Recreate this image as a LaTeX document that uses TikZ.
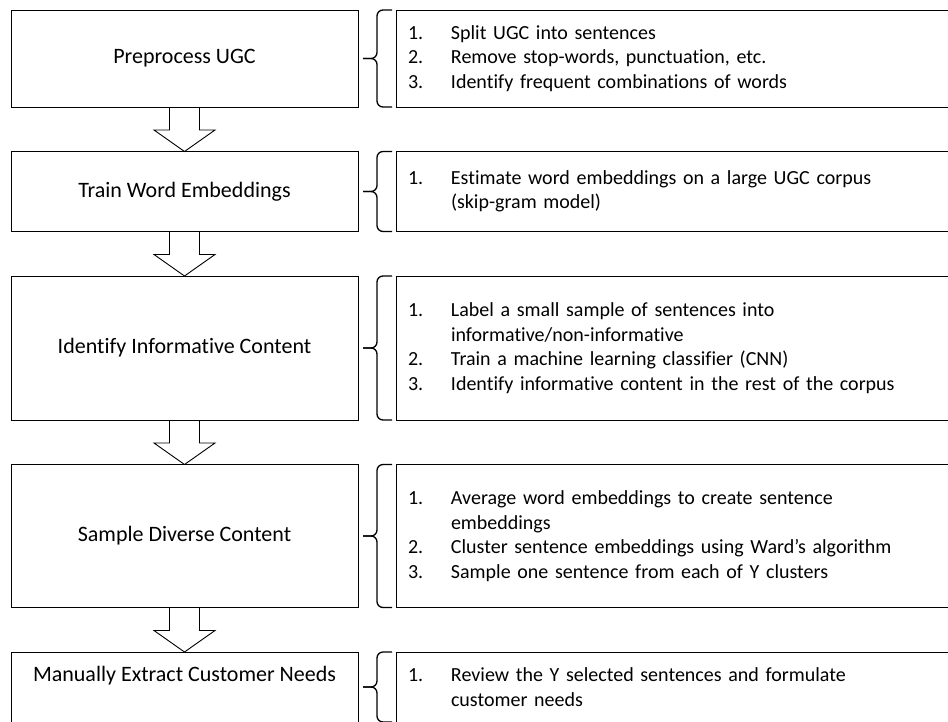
\documentclass[tikz,border=0pt]{standalone}
\usepackage{fontspec}
\setmainfont{Carlito}[Ligatures=CommonOff]
\usetikzlibrary{calc,positioning}
\tikzstyle{stage}=[rectangle,draw=black,line width=1pt,minimum width=347pt,
inner sep=0pt,outer sep=0pt,font=\fontsize{22}{26}\selectfont,align=center]
\tikzstyle{detail}=[rectangle,draw=black,line width=1pt,minimum width=554pt,
text width=530pt,inner xsep=12pt,inner ysep=0pt,outer sep=0pt,
font=\fontsize{20}{24.5}\selectfont,align=left]
\tikzstyle{flow}=[draw=black,line width=0.9pt,line join=miter]
\tikzstyle{bracket}=[draw=black,line width=1.3pt,rounded corners=6pt]

\newcommand{\itemno}[1]{\makebox[43pt][l]{#1}}
\newcommand{\itemcont}{\hspace*{43pt}}
% hollow block arrow from one stage down to the next
\newcommand{\flowarrow}[2]{%
  \draw[flow] ($(#1.south)+(-15,0)$) -- ++(0,-23) -- ++(-15.5,0) -- (#2.north)
    -- ($(#1.south)+(30.5,-23)$) -- ++(-15.5,0) -- ++(0,23);
}
% curly bracket from a stage to its list of steps
\newcommand{\stepbrace}[2]{%
  \draw[bracket] ($(#2.north west)+(-4,0)$) -- ($(#2.north west)+(-19,0)$)
    -- ($(#2.west)+(-19,0)$) -- ($(#1.east)+(5,0)$);
  \draw[bracket] ($(#2.south west)+(-4,0)$) -- ($(#2.south west)+(-19,0)$)
    -- ($(#2.west)+(-19,0)$) -- ($(#1.east)+(5,0)$);
}

\begin{document}
\begin{tikzpicture}[x=1pt,y=1pt]
    \useasboundingbox (0,0) rectangle (948,-721);
    \clip (0,0) rectangle (948,-721);

    \node[stage,minimum height=97pt,anchor=north west] (preprocess) at (11,-10) {Preprocess UGC};
    \node[stage,minimum height=80pt] (train) [below=44.5pt of preprocess] {Train Word Embeddings};
    \node[stage,minimum height=144pt] (identify) [below=44.5pt of train] {Identify Informative Content};
    \node[stage,minimum height=143pt] (sample) [below=44.5pt of identify] {Sample Diverse Content};
    \node[stage,minimum height=70pt,
      label={[font=\fontsize{22}{26}\selectfont,yshift=11pt]center:Manually Extract Customer Needs}]
      (extract) [below=44.5pt of sample] {};

    \node[detail,minimum height=97pt] (preprocess_steps) [right=38pt of preprocess]
      {\itemno{1.}Split UGC into sentences\\
       \itemno{2.}Remove stop-words, punctuation, etc.\\
       \itemno{3.}Identify frequent combinations of words};
    \node[detail,minimum height=80pt] (train_steps) [right=38pt of train]
      {\itemno{1.}Estimate word embeddings on a large UGC corpus\\
       \itemcont(skip-gram model)};
    \node[detail,minimum height=144pt] (identify_steps) [right=38pt of identify]
      {\itemno{1.}Label a small sample of sentences into\\
       \itemcont informative/non-informative\\
       \itemno{2.}Train a machine learning classifier (CNN)\\
       \itemno{3.}Identify informative content in the rest of the corpus};
    \node[detail,minimum height=143pt] (sample_steps) [right=38pt of sample]
      {\itemno{1.}Average word embeddings to create sentence\\
       \itemcont embeddings\\
       \itemno{2.}Cluster sentence embeddings using Ward’s algorithm\\
       \itemno{3.}Sample one sentence from each of Y clusters};
    \node[detail,minimum height=70pt] (extract_steps) [right=38pt of extract]
      {\itemno{1.}Review the Y selected sentences and formulate\\
       \itemcont customer needs};

    \flowarrow{preprocess}{train}
    \flowarrow{train}{identify}
    \flowarrow{identify}{sample}
    \flowarrow{sample}{extract}

    \stepbrace{preprocess}{preprocess_steps}
    \stepbrace{train}{train_steps}
    \stepbrace{identify}{identify_steps}
    \stepbrace{sample}{sample_steps}
    \stepbrace{extract}{extract_steps}
  \end{tikzpicture}
\end{document}
